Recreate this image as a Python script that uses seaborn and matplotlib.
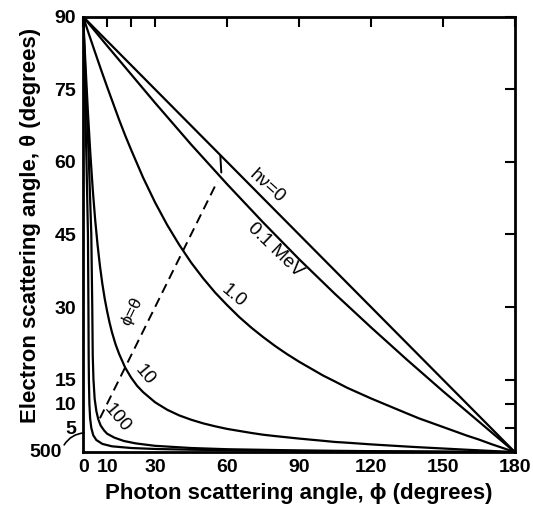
import matplotlib
matplotlib.use("Agg")
import matplotlib.pyplot as plt
import numpy as np
import pandas as pd
import seaborn as sns

# ---- data ----
phi_0 = [0, 180]
theta_0 = [90, 0]

phi_01 = [0, 5, 10, 15, 20, 30, 45, 60, 75, 90, 105, 120, 135, 150, 165, 180]
theta_01 = [90, 87.0, 84.0, 81.05, 78.1, 72.2, 63.6, 55.4, 47.5, 39.9, 32.7, 25.8, 19.1,
            12.6, 6.3, 0]

phi_1 = [0, 2, 5, 7.5, 10, 12.5, 15, 17.5, 20, 25, 30, 35, 40, 45, 50, 55, 60, 65, 70,
         75, 80, 85, 90, 100, 105, 110, 120, 135, 140, 150, 160, 165, 170, 175, 180]
theta_1 = [90, 87.0, 82.6, 79.0, 75.5, 72.1, 68.7, 65.5, 62.5, 56.75, 51.6, 47.0, 42.9,
           39.2, 35.95, 33.0, 30.4, 27.96, 25.78, 23.8, 21.95, 20.26, 18.7, 15.84, 14.6,
           13.32, 11.1, 8.0, 6.98, 5.2, 3.41, 2.6, 1.69, 0.85, 0]

phi_10 = [0, 0.5, 1, 2, 3, 4, 5, 6, 7, 8, 9, 10, 11, 12, 13.5, 15, 17.5, 20, 22.5, 25, 30,
          35, 40, 45, 50, 55, 60, 70, 75, 80, 90, 100, 105, 110, 120, 135, 140, 150, 160,
          165, 180]
theta_10 = [90, 84.9, 79.8, 70.2, 61.7, 54.3, 48.1, 42.9, 38.5, 34.8, 31.7, 29.1, 26.8,
            24.8, 22.3, 20.3, 17.5, 15.4, 13.7, 12.4, 10.3, 8.77, 7.6, 6.7, 5.95, 5.34,
            4.8, 3.97, 3.6, 3.32, 2.8, 2.34, 2.1, 1.95, 1.6, 1.15, 1.01, 0.75, 0.49,
            0.37, 0]

phi_100 = [0, 1.2, 2.4, 3.4, 3.8, 4.0, 4.3, 4.8, 5.5, 6.3, 7.3, 8.7, 10, 13, 17, 22, 30,
           45, 60, 90, 120, 150, 180]
theta_100 = [90, 75, 60, 45, 30, 20, 15, 11, 8.5, 6.8, 5.5, 4.5, 3.8, 3.0, 2.3, 1.8, 1.3,
             0.85, 0.6, 0.35, 0.2, 0.1, 0]

phi_500 = [0, 0.7, 1.4, 2.0, 2.2, 2.3, 2.4, 2.6, 2.9, 3.4, 4.2, 5.5, 8, 12, 20, 30, 45,
           60, 90, 120, 150, 180]
theta_500 = [90, 75, 60, 45, 30, 20, 15, 10, 7, 5, 3.5, 2.5, 1.7, 1.2, 0.85, 0.65, 0.5,
             0.4, 0.25, 0.15, 0.08, 0]

phi_eq = [7, 56]
theta_eq = [7, 56]

curve_names = ["0", "0.1", "1.0", "10", "100", "500"]
curve_phi = [phi_0, phi_01, phi_1, phi_10, phi_100, phi_500]
curve_theta = [theta_0, theta_01, theta_1, theta_10, theta_100, theta_500]

x_ticks = [0, 10, 20, 30, 60, 90, 120, 150, 180]
x_ticklabels = ["0", "10", "", "30", "60", "90", "120", "150", "180"]
y_ticks = [5, 10, 15, 30, 45, 60, 75, 90]
y_ticklabels = ["5", "10", "15", "30", "45", "60", "75", "90"]

# ---- build table ----
rows = []
for name, ph, th in zip(curve_names, curve_phi, curve_theta):
    for p, t in zip(ph, th):
        rows.append({"phi": p, "theta": t, "energy": name})
df = pd.DataFrame(rows)
df_eq = pd.DataFrame({"phi": phi_eq, "theta": theta_eq})

sns.set_style("white")
plt.rcParams["font.family"] = ["Liberation Sans", "DejaVu Sans"]
plt.rcParams["text.color"] = "black"
plt.rcParams["axes.labelcolor"] = "black"
plt.rcParams["xtick.color"] = "black"
plt.rcParams["ytick.color"] = "black"

fig = plt.figure(figsize=(5.33, 5.08), dpi=100)
ax = fig.add_axes([0.156, 0.110, 0.810, 0.857])

sns.lineplot(data=df, x="phi", y="theta", units="energy", estimator=None, sort=False,
             color="black", linewidth=1.6, ax=ax, legend=False)
sns.lineplot(data=df_eq, x="phi", y="theta", estimator=None, sort=False,
             color="black", linewidth=1.4, ax=ax, legend=False)
ax.lines[-1].set_dashes([5, 3])

# small mark where the phi=theta line meets the curves
ax.plot([57.2, 57.6], [61.3, 57.8], color="black", linewidth=1.4)

ax.set_xlim(0, 180)
ax.set_ylim(0, 90)
ax.set_xticks(x_ticks)
ax.set_xticklabels(x_ticklabels, fontweight="bold")
ax.set_yticks(y_ticks)
ax.set_yticklabels(y_ticklabels, fontweight="bold")
ax.tick_params(direction="in", length=7, width=1.5, top=True, right=True,
               labelsize=14, pad=5)
for s in ax.spines.values():
    s.set_linewidth(2)
    s.set_color("black")

ax.set_xlabel("Photon scattering angle, ϕ (degrees)", fontsize=16, fontweight="bold")
ax.xaxis.set_label_coords(0.5, -0.072)
ax.set_ylabel("Electron scattering angle, θ (degrees)", fontsize=16, fontweight="bold")
ax.yaxis.set_label_coords(-0.098, 0.52)

fs = 13.5
ax.text(76.7, 55.0, "hν=0", rotation=-42, ha="center", va="center", fontsize=fs)
ax.text(80, 41.8, "0.1 MeV", rotation=-44, ha="center", va="center", fontsize=fs)
ax.text(62.5, 32.3, "1.0", rotation=-40, ha="center", va="center", fontsize=fs)
ax.text(25.8, 15.9, "10", rotation=-50, ha="center", va="center", fontsize=fs)
ax.text(14.2, 7.0, "100", rotation=-50, ha="center", va="center", fontsize=fs)
ax.text(20.4, 29.0, "ϕ=θ", rotation=64, ha="center", va="center", fontsize=fs - 1)
ax.text(-15.8, 0, "500", ha="center", va="center", fontsize=14, fontweight="bold",
        clip_on=False)
ax.annotate("", xy=(1.5, 4.0), xytext=(-8.5, 1.0),
            arrowprops=dict(arrowstyle="-", connectionstyle="arc3,rad=-0.3",
                            lw=1.2, color="black"),
            annotation_clip=False)

fig.savefig("out.png", dpi=100)
